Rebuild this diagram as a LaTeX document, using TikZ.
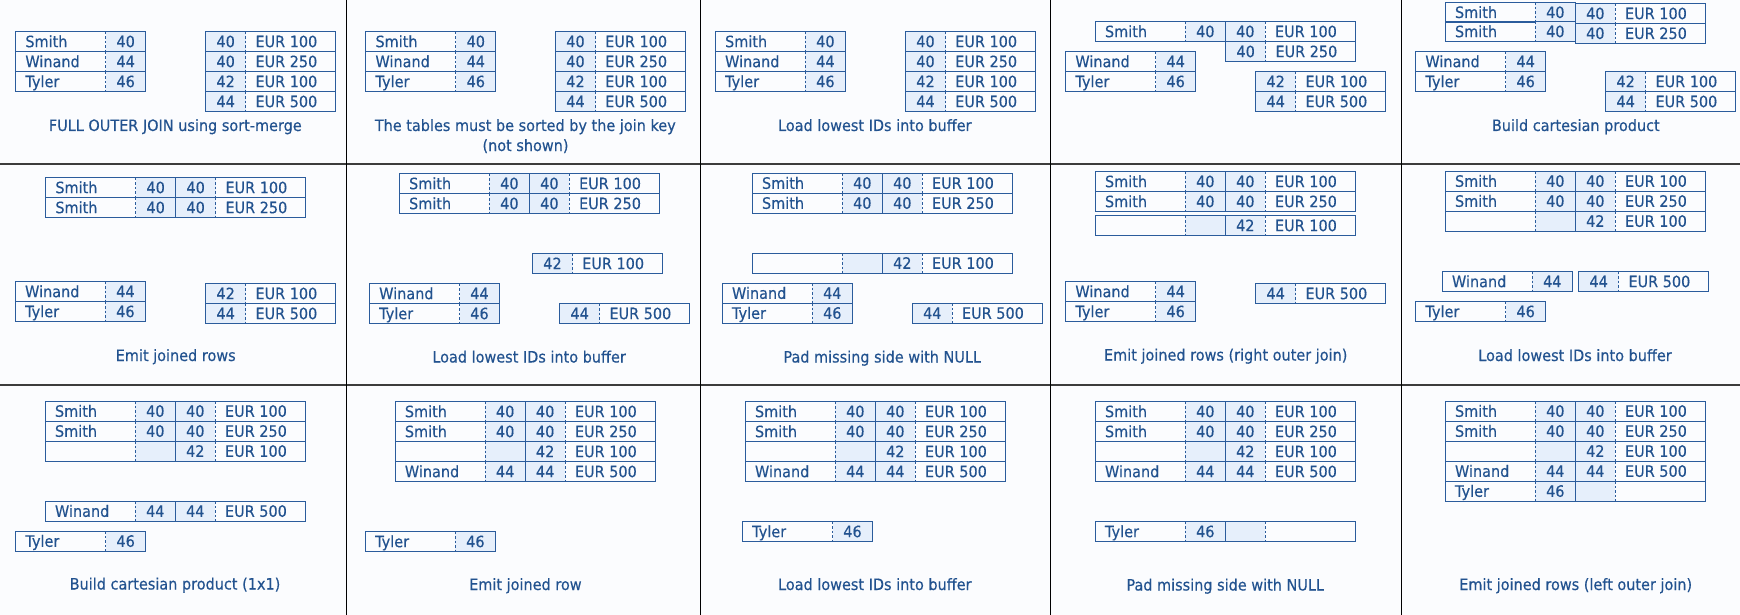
\documentclass[tikz,border=0pt]{standalone}
\usepackage{fontspec}
\setmainfont[FakeStretch=0.92,FakeBold=0.35]{DejaVu Sans}
\definecolor{ttext}{HTML}{22528F}
\definecolor{tline}{HTML}{2B5C9C}
\definecolor{kfill}{HTML}{E6EFFB}
\definecolor{pagebg}{HTML}{FBFCFE}
\definecolor{sepgray}{HTML}{3C3C3C}

\tikzset{
  gridline/.style={draw=tline, line width=1.25pt},
  divline/.style={draw=tline, line width=1.1pt, dash pattern=on 2.5pt off 2pt},
  keycell/.style={fill=kfill},
  celltext/.style={text=ttext, inner sep=0pt, font=\fontsize{15.7}{18}\selectfont},
  caption/.style={text=ttext, inner sep=0pt, anchor=base, font=\fontsize{15.7}{18}\selectfont},
  hsep/.style={draw=sepgray, line width=2pt},
  vsep/.style={draw=black, line width=1.4pt},
}

% left-table row: name (90) | key (40)
\newcommand\rowL[4]{%
  \fill[keycell] (#1+90,#2) rectangle ++(40,20);
  \draw[divline] (#1+90,#2) -- ++(0,20);
  \draw[gridline] (#1,#2) rectangle ++(130,20);
  \node[celltext,anchor=base west] at (#1+9.5,#2+15.5) {#3};
  \node[celltext,anchor=base] at (#1+110,#2+15.5) {#4};
}
% right-table row: key (40) | value (90)
\newcommand\rowR[4]{%
  \fill[keycell] (#1,#2) rectangle ++(40,20);
  \draw[divline] (#1+40,#2) -- ++(0,20);
  \draw[gridline] (#1,#2) rectangle ++(130,20);
  \node[celltext,anchor=base] at (#1+20,#2+15.5) {#3};
  \node[celltext,anchor=base west] at (#1+49.5,#2+15.5) {#4};
}
% frame of a joined row: name | key || key | value
\newcommand\rowframe[2]{%
  \fill[keycell] (#1+90,#2) rectangle ++(80,20);
  \draw[divline] (#1+90,#2) -- ++(0,20);
  \draw[divline] (#1+170,#2) -- ++(0,20);
  \draw[gridline] (#1+130,#2) -- ++(0,20);
  \draw[gridline] (#1,#2) rectangle ++(260,20);
}
% joined row
\newcommand\rowJ[6]{%
  \rowframe{#1}{#2}
  \node[celltext,anchor=base west] at (#1+9.5,#2+15.5) {#3};
  \node[celltext,anchor=base] at (#1+110,#2+15.5) {#4};
  \node[celltext,anchor=base] at (#1+150,#2+15.5) {#5};
  \node[celltext,anchor=base west] at (#1+179.5,#2+15.5) {#6};
}
% joined row, left side NULL
\newcommand\rowNL[4]{%
  \rowframe{#1}{#2}
  \node[celltext,anchor=base] at (#1+150,#2+15.5) {#3};
  \node[celltext,anchor=base west] at (#1+179.5,#2+15.5) {#4};
}
% joined row, right side NULL
\newcommand\rowNR[4]{%
  \rowframe{#1}{#2}
  \node[celltext,anchor=base west] at (#1+9.5,#2+15.5) {#3};
  \node[celltext,anchor=base] at (#1+110,#2+15.5) {#4};
}

\begin{document}
\begin{tikzpicture}[x=1pt,y=-1pt]
\useasboundingbox (0,0) rectangle (1740,615);
\fill[pagebg] (0,0) rectangle (1740,615);

% ---------- row 1 ----------
% FULL OUTER JOIN using sort-merge
\rowL{15.7}{31.7}{Smith}{40}
\rowL{15.7}{51.7}{Winand}{44}
\rowL{15.7}{71.7}{Tyler}{46}
\rowR{205.7}{31.7}{40}{EUR 100}
\rowR{205.7}{51.7}{40}{EUR 250}
\rowR{205.7}{71.7}{42}{EUR 100}
\rowR{205.7}{91.7}{44}{EUR 500}
\node[caption] (c1) at (175.3,131) {FULL OUTER JOIN using sort-merge};

% sorted inputs
\rowL{365.8}{31.7}{Smith}{40}
\rowL{365.8}{51.7}{Winand}{44}
\rowL{365.8}{71.7}{Tyler}{46}
\rowR{555.5}{31.7}{40}{EUR 100}
\rowR{555.5}{51.7}{40}{EUR 250}
\rowR{555.5}{71.7}{42}{EUR 100}
\rowR{555.5}{91.7}{44}{EUR 500}
\node[caption] (c2a) at (525.3,131) {The tables must be sorted by the join key};
\node[caption] (c2b) at (525.5,151) {(not shown)};

% load lowest IDs
\rowL{715.4}{31.7}{Smith}{40}
\rowL{715.4}{51.7}{Winand}{44}
\rowL{715.4}{71.7}{Tyler}{46}
\rowR{905.5}{31.7}{40}{EUR 100}
\rowR{905.5}{51.7}{40}{EUR 250}
\rowR{905.5}{71.7}{42}{EUR 100}
\rowR{905.5}{91.7}{44}{EUR 500}
\node[caption] (c3) at (874.8,131) {Load lowest IDs into buffer};

% buffer loaded
\rowJ{1095.3}{21.7}{Smith}{40}{40}{EUR 100}
\rowR{1225.7}{41.7}{40}{EUR 250}
\rowL{1065.7}{51.7}{Winand}{44}
\rowL{1065.7}{71.7}{Tyler}{46}
\rowR{1255.7}{71.7}{42}{EUR 100}
\rowR{1255.7}{91.7}{44}{EUR 500}

% build cartesian product
\rowL{1445.3}{2.5}{Smith}{40}
\rowL{1445.3}{21.7}{Smith}{40}
\rowR{1575.3}{3.7}{40}{EUR 100}
\rowR{1575.3}{23.5}{40}{EUR 250}
\rowL{1415.7}{51.7}{Winand}{44}
\rowL{1415.7}{71.7}{Tyler}{46}
\rowR{1605.7}{71.7}{42}{EUR 100}
\rowR{1605.7}{91.7}{44}{EUR 500}
\node[caption] (c5) at (1575.8,131) {Build cartesian product};

% ---------- row 2 ----------
% emit joined rows
\rowJ{45.7}{177.7}{Smith}{40}{40}{EUR 100}
\rowJ{45.7}{197.7}{Smith}{40}{40}{EUR 250}
\rowL{15.4}{281.7}{Winand}{44}
\rowL{15.4}{301.7}{Tyler}{46}
\rowR{205.7}{283.7}{42}{EUR 100}
\rowR{205.7}{303.7}{44}{EUR 500}
\node[caption] (c6) at (175.7,361) {Emit joined rows};

% load lowest IDs
\rowJ{399.4}{173.7}{Smith}{40}{40}{EUR 100}
\rowJ{399.4}{193.7}{Smith}{40}{40}{EUR 250}
\rowR{532.5}{253.7}{42}{EUR 100}
\rowL{369.5}{283.7}{Winand}{44}
\rowL{369.5}{303.7}{Tyler}{46}
\rowR{559.7}{303.7}{44}{EUR 500}
\node[caption] (c7) at (529.1,362.5) {Load lowest IDs into buffer};

% pad with NULL
\rowJ{752.3}{173.3}{Smith}{40}{40}{EUR 100}
\rowJ{752.3}{193.3}{Smith}{40}{40}{EUR 250}
\rowNL{752.3}{253.3}{42}{EUR 100}
\rowL{722.3}{283.3}{Winand}{44}
\rowL{722.3}{303.3}{Tyler}{46}
\rowR{912.3}{303.3}{44}{EUR 500}
\node[caption] (c8) at (882.2,362.5) {Pad missing side with NULL};

% emit right outer join row
\rowJ{1095.3}{171.7}{Smith}{40}{40}{EUR 100}
\rowJ{1095.3}{191.7}{Smith}{40}{40}{EUR 250}
\rowNL{1095.3}{215.7}{42}{EUR 100}
\rowL{1065.7}{281.7}{Winand}{44}
\rowL{1065.7}{301.7}{Tyler}{46}
\rowR{1255.7}{283.7}{44}{EUR 500}
\node[caption] (c9) at (1225.7,360.5) {Emit joined rows (right outer join)};

% load lowest IDs
\rowJ{1445.3}{171.3}{Smith}{40}{40}{EUR 100}
\rowJ{1445.3}{191.3}{Smith}{40}{40}{EUR 250}
\rowNL{1445.3}{211.3}{42}{EUR 100}
\rowL{1442.3}{271.7}{Winand}{44}
\rowR{1578.7}{271.7}{44}{EUR 500}
\rowL{1415.7}{301.7}{Tyler}{46}
\node[caption] (c10) at (1575,361) {Load lowest IDs into buffer};

% ---------- row 3 ----------
% build cartesian product (1x1)
\rowJ{45.3}{401.3}{Smith}{40}{40}{EUR 100}
\rowJ{45.3}{421.3}{Smith}{40}{40}{EUR 250}
\rowNL{45.3}{441.3}{42}{EUR 100}
\rowJ{45.3}{501.3}{Winand}{44}{44}{EUR 500}
\rowL{15.7}{531.3}{Tyler}{46}
\node[caption] (c11) at (175,589.5) {Build cartesian product (1x1)};

% emit joined row
\rowJ{395.2}{401.7}{Smith}{40}{40}{EUR 100}
\rowJ{395.2}{421.7}{Smith}{40}{40}{EUR 250}
\rowNL{395.2}{441.7}{42}{EUR 100}
\rowJ{395.2}{461.7}{Winand}{44}{44}{EUR 500}
\rowL{365.4}{531.7}{Tyler}{46}
\node[caption] (c12) at (525.4,590) {Emit joined row};

% load lowest IDs
\rowJ{745.3}{401.7}{Smith}{40}{40}{EUR 100}
\rowJ{745.3}{421.7}{Smith}{40}{40}{EUR 250}
\rowNL{745.3}{441.7}{42}{EUR 100}
\rowJ{745.3}{461.7}{Winand}{44}{44}{EUR 500}
\rowL{742.5}{521.7}{Tyler}{46}
\node[caption] (c13) at (874.8,590) {Load lowest IDs into buffer};

% pad with NULL
\rowJ{1095.3}{401.7}{Smith}{40}{40}{EUR 100}
\rowJ{1095.3}{421.7}{Smith}{40}{40}{EUR 250}
\rowNL{1095.3}{441.7}{42}{EUR 100}
\rowJ{1095.3}{461.7}{Winand}{44}{44}{EUR 500}
\rowNR{1095.3}{521.7}{Tyler}{46}
\node[caption] (c14) at (1225.2,590.5) {Pad missing side with NULL};

% emit left outer join row
\rowJ{1445.3}{401.3}{Smith}{40}{40}{EUR 100}
\rowJ{1445.3}{421.3}{Smith}{40}{40}{EUR 250}
\rowNL{1445.3}{441.3}{42}{EUR 100}
\rowJ{1445.3}{461.3}{Winand}{44}{44}{EUR 500}
\rowNR{1445.3}{481.3}{Tyler}{46}
\node[caption] (c15) at (1575.7,590) {Emit joined rows (left outer join)};

% ---------- panel separators ----------
\draw[hsep] (0,163.5) -- (1740,163.5);
\draw[hsep] (0,385) -- (1740,385);
\foreach \sx in {346.5,700.5,1050.5,1401.5}
  \draw[vsep] (\sx,0) -- (\sx,615);
\end{tikzpicture}
\end{document}
